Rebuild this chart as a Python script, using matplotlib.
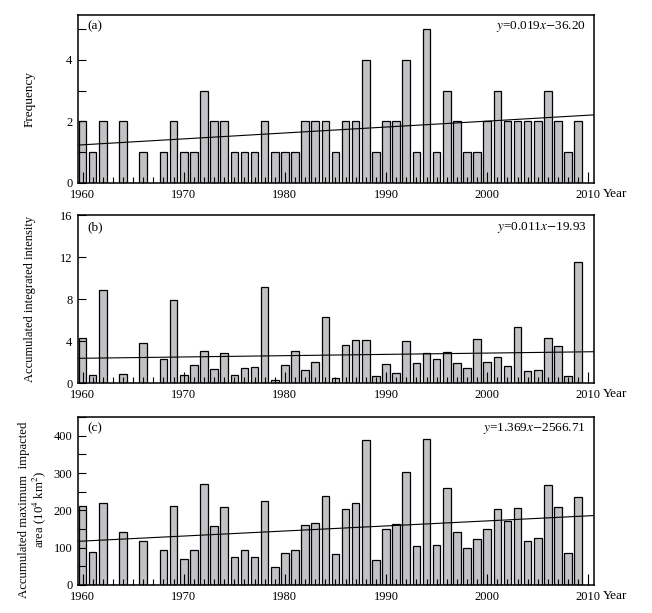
import numpy as np
import matplotlib
matplotlib.use('Agg')
from matplotlib import pyplot as plt
from matplotlib.ticker import MultipleLocator

plt.rcParams['font.family'] = ['Liberation Serif', 'DejaVu Serif']
plt.rcParams['mathtext.fontset'] = 'stix'

years = np.arange(1960, 2010)

# Frequency
freq = [2, 1, 2, 0, 2, 0, 1, 0, 1, 2,
        1, 1, 3, 2, 2, 1, 1, 1, 2, 1,
        1, 1, 2, 2, 2, 1, 2, 2, 4, 1,
        2, 2, 4, 1, 5, 1, 3, 2, 1, 1,
        2, 3, 2, 2, 2, 2, 3, 2, 1, 2]

# Accumulated integrated intensity
intensity = [4.28, 0.79, 8.87, 0, 0.89, 0, 3.80, 0, 2.28, 7.92,
             0.79, 1.74, 3.07, 1.33, 2.85, 0.79, 1.43, 1.52, 9.13, 0.29,
             1.74, 3.07, 1.24, 2.00, 6.27, 0.48, 3.61, 4.09, 4.09, 0.67,
             1.81, 0.95, 3.99, 1.90, 2.85, 2.28, 2.95, 1.90, 1.43, 4.18,
             2.00, 2.47, 1.62, 5.32, 1.14, 1.24, 4.28, 3.52, 0.67, 11.6]

# Accumulated maximum impacted area (10^4 km^2)
area = [211, 88, 219, 0, 141, 0, 117, 0, 93, 211,
        69, 93, 270, 157, 208, 74, 93, 74, 225, 47,
        85, 93, 160, 166, 238, 82, 203, 219, 388, 66,
        149, 163, 302, 104, 391, 106, 260, 141, 98, 123,
        149, 203, 171, 206, 117, 125, 268, 208, 85, 235]

# trend line values at the left and right edge of the plot
trend_x = [1959.55, 2010.55]
trend_a = [1.23, 2.21]
trend_b = [2.38, 3.01]
trend_c = [117, 186]

panels = [
    (freq, trend_a, '(a)', r'$y$=0.019$x$$-$36.20', 'Frequency',
     5.45, 2, 1, -0.082, 0.5, 9.5),
    (intensity, trend_b, '(b)', r'$y$=0.011$x$$-$19.93', 'Accumulated integrated intensity',
     16, 4, None, -0.082, 0.5, 9),
    (area, trend_c, '(c)', r'$y$=1.369$x$$-$2566.71',
     'Accumulated maximum  impacted\narea (10$^4$ km$^2$)',
     450, 100, 50, -0.058, 0.45, 9.2),
]

fig = plt.figure(figsize=(6.52, 6.13), dpi=100)
bottoms = [0.7015, 0.3747, 0.0457]
height = 0.274

for (vals, trend, tag, eq, ylab, ymax, major, minor, lx, ly, lfs), b in zip(panels, bottoms):
    ax = fig.add_axes([0.1196, b, 0.7914, height])
    ax.bar(years, vals, width=0.75, color='#c2c2c6', edgecolor='black', linewidth=0.9)
    ax.plot(trend_x, trend, color='black', linewidth=0.8)

    ax.set_xlim(trend_x)
    ax.set_ylim(0, ymax)
    ax.xaxis.set_major_locator(MultipleLocator(10))
    ax.xaxis.set_minor_locator(MultipleLocator(1))
    ax.yaxis.set_major_locator(MultipleLocator(major))
    if minor:
        ax.yaxis.set_minor_locator(MultipleLocator(minor))
    ax.tick_params(which='both', direction='in', top=False, right=False,
                   labelsize=9, width=0.8)
    ax.tick_params(axis='x', which='major', length=8, pad=4)
    ax.tick_params(axis='x', which='minor', length=4)
    ax.tick_params(axis='y', which='both', length=6, pad=4)
    for s in ax.spines.values():
        s.set_linewidth(1.1)

    ax.text(0.018, 0.93, tag, transform=ax.transAxes, fontsize=9.5, va='center')
    ax.text(0.985, 0.93, eq, transform=ax.transAxes, fontsize=9.5,
            ha='right', va='center')
    ax.set_ylabel(ylab, fontsize=lfs, linespacing=1.05)
    ax.yaxis.set_label_coords(lx, ly)
    ax.text(1.018, -0.028, 'Year', transform=ax.transAxes, fontsize=9.5,
            ha='left', va='top')

fig.savefig('out.png', dpi=100)
